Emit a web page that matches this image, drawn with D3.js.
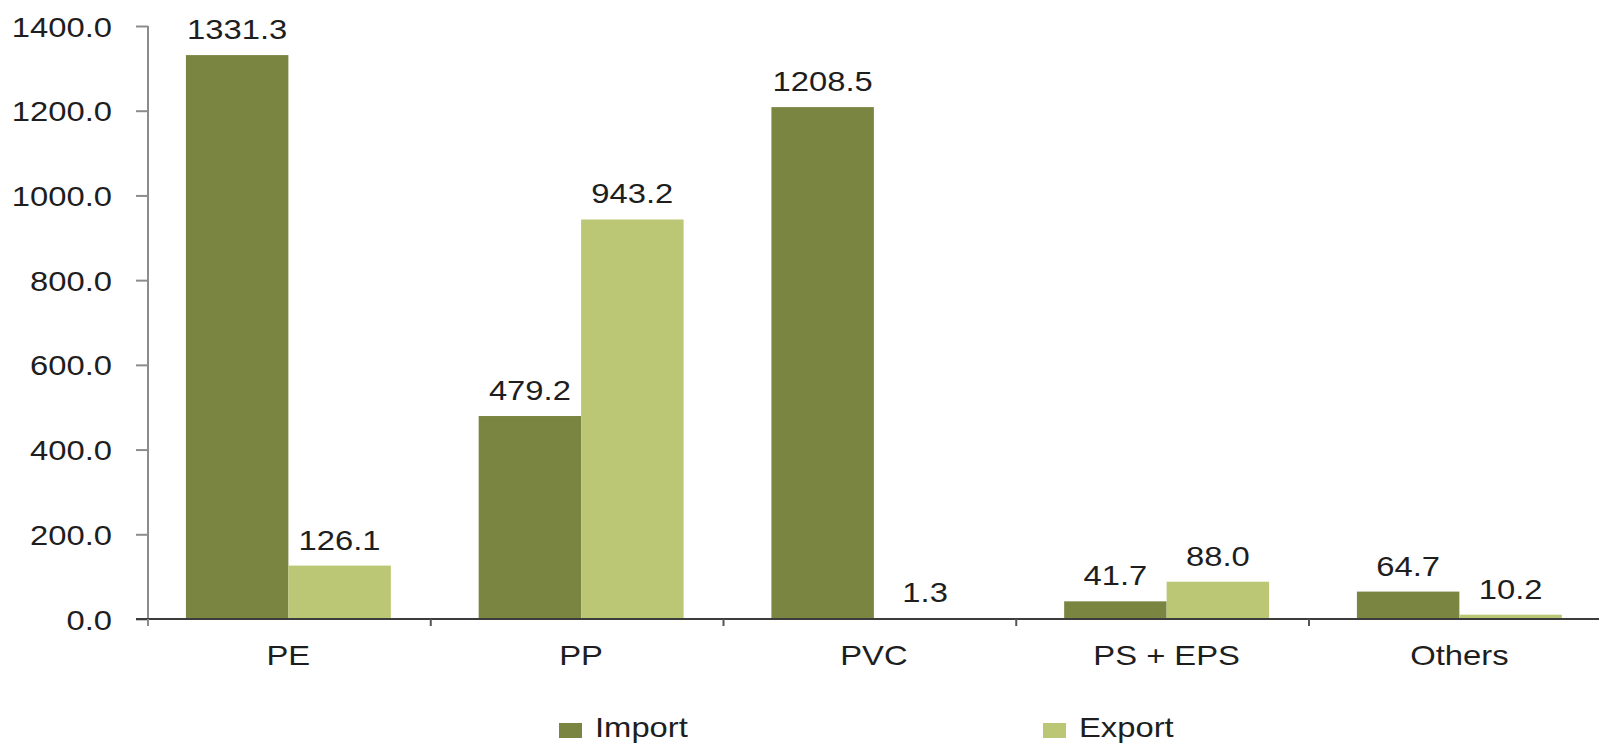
<!DOCTYPE html>
<html>
<head>
    <title>Import / Export</title>
    <script src="https://d3js.org/d3.v7.min.js"></script>
    <style>
        body { margin: 0; background: #fff; }
        text { font-family: "Liberation Sans", Arial, sans-serif; fill: #1e1e1e; }
    </style>
</head>
<body>
    <svg width="1599" height="745"></svg>
    <script>
        // chart values
        var categories = ["PE", "PP", "PVC", "PS + EPS", "Others"];
        var series = ["Import", "Export"];
        var importValues = [1331.3, 479.2, 1208.5, 41.7, 64.7];
        var exportValues = [126.1, 943.2, 1.3, 88.0, 10.2];
        var yTicks = [0, 200, 400, 600, 800, 1000, 1200, 1400];

        var colors = { "Import": "#7a8541", "Export": "#bcc775" };
        var stretch = 1.17;   // the original text is a bit wide

        var svg = d3.select("svg");

        var y = d3.scaleLinear().domain([0, 1400]).range([619, 26]);
        var x = d3.scaleBand().domain(categories)
            .range([142, 1605.75])
            .paddingInner(0.3)
            .paddingOuter(0.15);
        var xs = d3.scaleBand().domain(series).range([0, x.bandwidth()]);

        var rows = categories.map(function(c, i) {
            return { cat: c, Import: importValues[i], Export: exportValues[i] };
        });

        function wideText(sel) {
            sel.attr("transform", function(d) {
                return "translate(" + d.tx + "," + d.ty + ") scale(" + stretch + ",1)";
            });
        }

        // y axis
        var yAxis = svg.append("g")
            .attr("transform", "translate(148,0)")
            .call(d3.axisLeft(y).tickValues(yTicks).tickFormat(d3.format(".1f")).tickSize(12));
        yAxis.select(".domain").attr("stroke", "#8c8c8c").attr("stroke-width", 2).attr("d", "M0," + y(1400) + "V" + y(0));
        yAxis.selectAll(".tick line").attr("stroke", "#8c8c8c").attr("stroke-width", 2);
        yAxis.selectAll(".tick text")
            .attr("x", null).attr("dy", "0.36em")
            .attr("transform", "translate(-36,0) scale(" + stretch + ",1)")
            .style("font-size", "28px").attr("fill", "#1e1e1e");

        // bars
        var groups = svg.append("g").selectAll("g")
            .data(rows).enter().append("g")
            .attr("transform", function(d) { return "translate(" + x(d.cat) + ",0)"; });

        groups.selectAll("rect")
            .data(function(d) { return series.map(function(s) { return { key: s, value: d[s] }; }); })
            .enter().append("rect")
            .attr("x", function(d) { return xs(d.key); })
            .attr("y", function(d) { return y(d.value); })
            .attr("width", xs.bandwidth())
            .attr("height", function(d) { return y(0) - y(d.value); })
            .attr("fill", function(d) { return colors[d.key]; });

        groups.selectAll("text")
            .data(function(d) { return series.map(function(s) { return { key: s, value: d[s] }; }); })
            .enter().append("text")
            .attr("text-anchor", "middle")
            .style("font-size", "28px")
            .each(function(d) { d.tx = xs(d.key) + xs.bandwidth() / 2; d.ty = y(d.value) - 16; })
            .call(wideText)
            .text(function(d) { return d3.format(".1f")(d.value); });

        // x axis
        var step = x.step();
        var xAxis = svg.append("g");
        xAxis.append("line")
            .attr("x1", 136).attr("x2", 1599)
            .attr("y1", y(0)).attr("y2", y(0))
            .attr("stroke", "#3c3c3c").attr("stroke-width", 2);
        xAxis.selectAll("line.tk")
            .data(categories.slice(1)).enter().append("line")
            .attr("class", "tk")
            .attr("x1", function(d) { return x(d) - step * 0.15 - 4; })
            .attr("x2", function(d) { return x(d) - step * 0.15 - 4; })
            .attr("y1", y(0)).attr("y2", y(0) + 7)
            .attr("stroke", "#555").attr("stroke-width", 2);
        xAxis.append("line")
            .attr("x1", 148).attr("x2", 148).attr("y1", y(0)).attr("y2", y(0) + 7)
            .attr("stroke", "#8c8c8c").attr("stroke-width", 2);
        xAxis.selectAll("text")
            .data(categories).enter().append("text")
            .attr("text-anchor", "middle")
            .style("font-size", "28px")
            .attr("transform", function(d) {
                return "translate(" + (x(d) + x.bandwidth() / 2) + ",665) scale(" + stretch + ",1)";
            })
            .text(function(d) { return d; });

        // legend
        var legendX = [559, 1043];
        var legend = svg.append("g").selectAll("g")
            .data(series).enter().append("g")
            .attr("transform", function(d, i) { return "translate(" + legendX[i] + ",723)"; });
        legend.append("rect")
            .attr("width", 23).attr("height", 15)
            .attr("fill", function(d) { return colors[d]; });
        legend.append("text")
            .attr("transform", "translate(36,14) scale(" + stretch + ",1)")
            .style("font-size", "28px")
            .text(function(d) { return d; });
    </script>
</body>
</html>
